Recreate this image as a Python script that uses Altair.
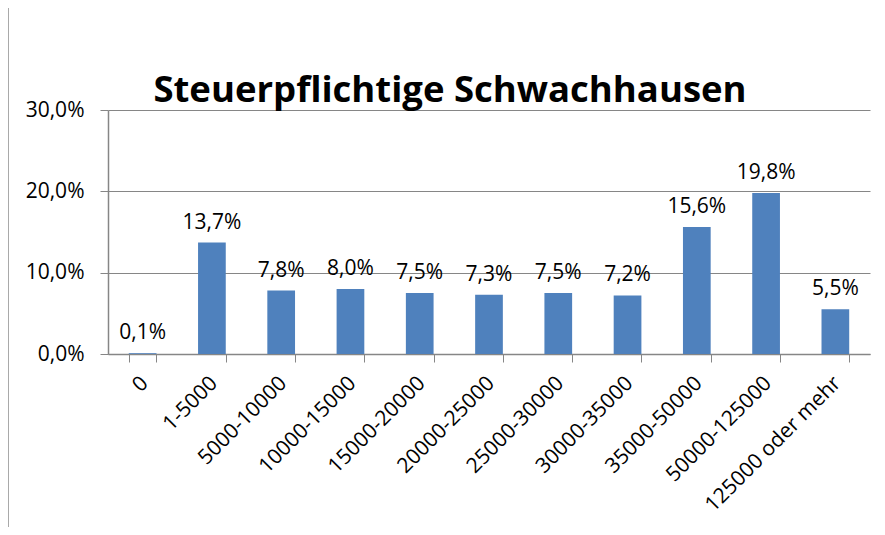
import altair as alt
import pandas as pd

categories = ["0", "1-5000", "5000-10000", "10000-15000", "15000-20000", "20000-25000",
              "25000-30000", "30000-35000", "35000-50000", "50000-125000", "125000 oder mehr"]
values = [0.1, 13.7, 7.8, 8.0, 7.5, 7.3, 7.5, 7.2, 15.6, 19.8, 5.5]
title_text = "Steuerpflichtige Schwachhausen"

df = pd.DataFrame({"cat": categories, "val": [v / 100 for v in values]})
FONT = "Open Sans"
FS = 21

x = alt.X("cat:N", sort=categories, title=None,
          scale=alt.Scale(paddingInner=0.6, paddingOuter=0.3),
          axis=alt.Axis(labelAngle=-45, labelFontSize=FS, labelColor="black", labelFont=FONT,
                        domainColor="#868686", tickColor="#868686", tickSize=8,
                        tickBand="extent", labelPadding=10, labelOffset=-6,
                        labelLimit=400, grid=False))
y = alt.Y("val:Q", title=None,
          scale=alt.Scale(domain=[0, 0.3], nice=False),
          axis=alt.Axis(values=[0, 0.1, 0.2, 0.3], tickSize=8, labelPadding=16,
                        labelFontSize=FS, labelColor="black", labelFont=FONT,
                        labelExpr="replace(format(datum.value, '.1%'), '.', ',')",
                        domainColor="#868686", tickColor="#868686",
                        gridColor="#868686", gridWidth=1))

bars = alt.Chart(df).mark_bar(color="#4F81BD").encode(x=x, y=y)
labels = alt.Chart(df).transform_calculate(
    lab="replace(format(datum.val, '.1%'), '.', ',')"
).mark_text(baseline="alphabetic", dy=-14, fontSize=FS, font=FONT, color="black").encode(
    x=alt.X("cat:N", sort=categories), y="val:Q", text="lab:N")

title = alt.Chart(pd.DataFrame({"t": [title_text]})).mark_text(
    font=FONT, fontWeight="bold", fontSize=36.5, color="black", align="center",
    baseline="alphabetic").encode(x=alt.value(342), y=alt.value(-8), text="t:N")

frame_left = alt.Chart(pd.DataFrame({"a": [0]})).mark_rule(color="#8c8c8c", strokeWidth=1.5).encode(
    x=alt.value(-100), y=alt.value(-104), y2=alt.value(440))
frame_top = alt.Chart(pd.DataFrame({"a": [0]})).mark_rule(color="#8c8c8c", strokeWidth=1.5).encode(
    x=alt.value(-100), x2=alt.value(800), y=alt.value(-104))

chart = alt.layer(bars, labels, title, frame_left, frame_top).properties(
    width=762, height=244,
    autosize=alt.AutoSizeParams(type="none"),
    padding={"left": 100, "top": 102, "right": 7, "bottom": 173},
).configure_view(stroke=None).configure_axis(domainWidth=1.5)

chart.save("out.html", embed_options={"renderer": "svg", "actions": False})
